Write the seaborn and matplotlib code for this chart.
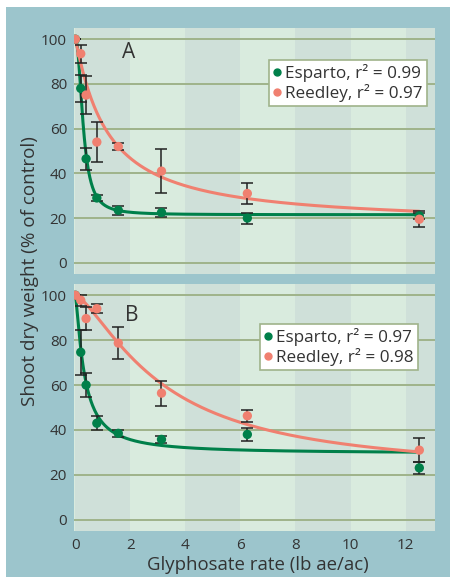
import numpy as np
import pandas as pd
import matplotlib.pyplot as plt
from matplotlib.patches import Rectangle
from matplotlib.lines import Line2D
import seaborn as sns

# glyphosate rates (lb ae/ac)
rates = [0, 0.195, 0.39, 0.78, 1.56, 3.13, 6.25, 12.5]

# panel A
esparto_a = [100, 78, 46.5, 29, 23.5, 22.5, 20, 21]
esparto_a_err = [0, 6, 5, 1.5, 2, 2, 2.5, 1.5]
reedley_a = [100, 93.5, 75, 54, 52, 41, 31, 19.5]
reedley_a_err = [0, 4, 8.5, 9, 1.5, 10, 4.5, 3.5]

# panel B
esparto_b = [100, 74.6, 60, 43, 38.5, 35.8, 38, 23.1]
esparto_b_err = [0, 10, 5.5, 3, 1.5, 1.5, 3, 2.6]
reedley_b = [100, 97.8, 89.6, 94, 78.7, 56.4, 46.3, 31]
reedley_b_err = [0, 2.5, 5, 2, 7.3, 5.6, 2.7, 5.2]

# fitted log-logistic curves: (lower, upper, ED50, slope)
fit_params = {
    ('A', 'Esparto'): (21.5, 100, 0.29, 2.2),
    ('A', 'Reedley'): (17, 100, 1.16, 1.07),
    ('B', 'Esparto'): (29.5, 100, 0.33, 1.3),
    ('B', 'Reedley'): (20, 100, 3.2, 1.41),
}
r2 = {('A', 'Esparto'): 0.99, ('A', 'Reedley'): 0.97,
      ('B', 'Esparto'): 0.97, ('B', 'Reedley'): 0.98}

green = '#00804a'
salmon = '#f08070'
teal = '#9cc5cc'
col_dark = '#cfe0d9'
col_light = '#d9ebde'
grid_c = '#9fb38a'
txt_c = '#333333'
palette = {'Esparto': green, 'Reedley': salmon}

sns.set_style('white')
plt.rcParams['font.family'] = ['Open Sans', 'DejaVu Sans']
plt.rcParams['text.color'] = txt_c

df = pd.concat([
    pd.DataFrame({'panel': 'A', 'site': 'Esparto', 'rate': rates, 'y': esparto_a, 'err': esparto_a_err}),
    pd.DataFrame({'panel': 'A', 'site': 'Reedley', 'rate': rates, 'y': reedley_a, 'err': reedley_a_err}),
    pd.DataFrame({'panel': 'B', 'site': 'Esparto', 'rate': rates, 'y': esparto_b, 'err': esparto_b_err}),
    pd.DataFrame({'panel': 'B', 'site': 'Reedley', 'rate': rates, 'y': reedley_b, 'err': reedley_b_err}),
])

xfit = np.linspace(0, 12.5, 500)
l_fit = []
for (panel, site), (c, d, e, b) in fit_params.items():
    l_fit.append(pd.DataFrame({'panel': panel, 'site': site, 'rate': xfit,
                               'y': c + (d - c) / (1 + (xfit / e) ** b)}))
df_fit = pd.concat(l_fit)

fig = plt.figure(figsize=(4.55, 5.79), dpi=100)
fig.patch.set_facecolor('white')
fig.patches.append(Rectangle((6 / 455, 2 / 579), 444 / 455, 570 / 579,
                             transform=fig.transFigure, facecolor=teal,
                             edgecolor='none', zorder=-10))

ax_a = fig.add_axes([74 / 455, (579 - 274) / 579, 361 / 455, 246 / 579])
ax_b = fig.add_axes([74 / 455, (579 - 531) / 579, 361 / 455, 247 / 579])

legend_pos = {'A': (0.978, 0.870), 'B': (0.953, 0.838)}
label_pos = {'A': (1.95, 94), 'B': (2.05, 91)}

for panel, ax in [('A', ax_a), ('B', ax_b)]:
    ax.set_facecolor(col_light)
    for i, x0 in enumerate(range(0, 14, 2)):
        if i % 2 == 0:
            ax.axvspan(x0, x0 + 2, color=col_dark, lw=0, zorder=0)
    for yv in range(0, 101, 20):
        ax.axhline(yv, color=grid_c, lw=1.4, zorder=1)

    d_fit = df_fit[df_fit['panel'] == panel]
    sns.lineplot(data=d_fit, x='rate', y='y', hue='site', palette=palette,
                 lw=2.2, ax=ax, legend=False, zorder=3)
    d = df[df['panel'] == panel]
    for site, g in d.groupby('site'):
        ax.errorbar(g['rate'], g['y'], yerr=g['err'], fmt='none', ecolor='#222222',
                    elinewidth=1.1, capsize=4, capthick=1.1, zorder=4)
    sns.scatterplot(data=d, x='rate', y='y', hue='site', palette=palette,
                    s=45, edgecolor='none', ax=ax, legend=False, zorder=5)

    ax.set_xlim(-0.05, 13.07)
    ax.set_ylim(-5, 105)
    ax.set_yticks(range(0, 101, 20))
    ax.set_xticks(range(0, 13, 2))
    ax.set_xlabel('')
    ax.set_ylabel('')
    for s in ax.spines.values():
        s.set_visible(False)
    ax.tick_params(axis='y', length=0, pad=5, labelsize=11, labelcolor=txt_c)

    ax.text(*label_pos[panel], panel, fontsize=15, color=txt_c, ha='center', va='center')

    handles = [Line2D([], [], ls='none', marker='o', ms=5, color=palette[s],
                      label=f'{s}, r² = {r2[(panel, s)]:.2f}')
               for s in ['Esparto', 'Reedley']]
    leg = ax.legend(handles=handles, loc='upper right', bbox_to_anchor=legend_pos[panel],
                    frameon=True, fancybox=False, fontsize=12.3, handlelength=0.4,
                    handletextpad=0.3, borderpad=0.25, labelspacing=0.1,
                    borderaxespad=0, facecolor='white', framealpha=1)
    leg.get_frame().set_edgecolor('#9fb38a')
    leg.get_frame().set_linewidth(1.2)

# panel A: short ticks down into the strip, no labels
ax_a.set_xticks(list(range(0, 13, 2)) + [13.07])
ax_a.tick_params(axis='x', direction='out', length=7, width=1, color='#b9cfc4',
                 labelbottom=False)
ax_b.tick_params(axis='x', length=0, pad=5, labelsize=11, labelcolor=txt_c)

fig.text(30 / 455, 1 - 271 / 579, 'Shoot dry weight (% of control)', rotation=90,
         ha='center', va='center', fontsize=13.6, color=txt_c)
fig.text(258 / 455, 1 - 565 / 579, 'Glyphosate rate (lb ae/ac)',
         ha='center', va='center', fontsize=13.4, color=txt_c)

fig.savefig('out.png', dpi=100)
